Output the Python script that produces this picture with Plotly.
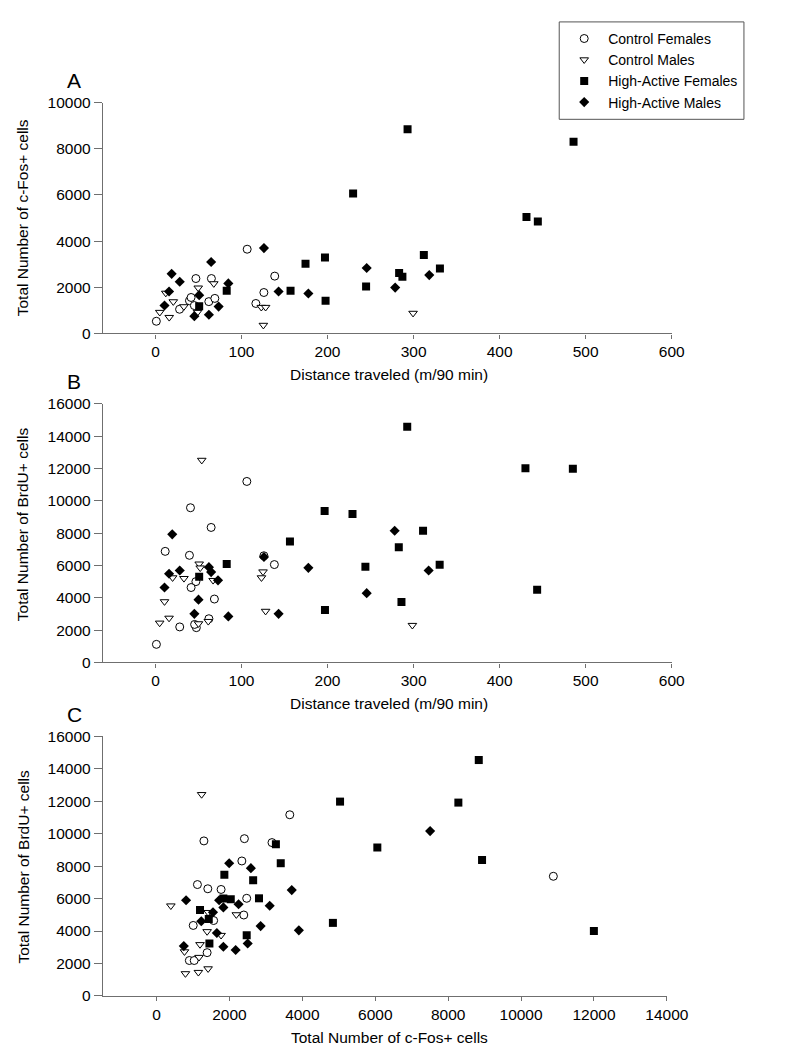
import plotly.graph_objects as go

# ---------------- Panel A: distance vs c-Fos ----------------
a_cf_x = [1, 28, 39.5, 41.4, 47, 45.2, 62, 65, 69, 106.6, 116.7, 126, 138.6]
a_cf_y = [530, 1050, 1420, 1560, 2380, 1210, 1380, 2380, 1520, 3650, 1300, 1775, 2485]
a_cm_x = [5, 12, 16, 20.7, 33, 49.7, 48.9, 67.8, 123, 128, 125.4, 299.4]
a_cm_y = [920, 1750, 700, 1380, 1165, 1975, 920, 2160, 1136, 1136, 360, 880]
a_hf_x = [50.8, 82.8, 157, 174.4, 197, 197.7, 229.7, 244.8, 283.2, 287, 293, 311.9, 330.6, 431.2, 444.4, 485.9]
a_hf_y = [1180, 1850, 1850, 3020, 3290, 1420, 6060, 2030, 2625, 2455, 8840, 3400, 2810, 5040, 4850, 8300]
a_hm_x = [10.5, 15.8, 18.8, 28.2, 45.2, 50.8, 62.1, 64.7, 73.4, 84.7, 126.1, 143.1, 177.7, 245.5, 278.6, 318.2]
a_hm_y = [1210, 1817, 2583, 2243, 750, 1660, 810, 3094, 1166, 2170, 3700, 1817, 1732, 2838, 1987, 2528]

# ---------------- Panel B: distance vs BrdU ----------------
b_cf_x = [1.1, 11.3, 40.7, 64.7, 39.5, 47, 41.4, 28.2, 47.5, 45.5, 62.1, 68.5, 106.2, 138.2, 126]
b_cf_y = [1116, 6872, 9573, 8354, 6628, 5000, 4634, 2195, 2150, 2350, 2702, 3921, 11201, 6055, 6600]
b_cm_x = [53.8, 10.5, 4.9, 15.8, 19.9, 33.1, 50.8, 52, 67, 61.4, 50, 123.2, 125, 128, 298.6]
b_cm_y = [12518, 3762, 2439, 2744, 5244, 5201, 6098, 5854, 5079, 2541, 2398, 5244, 5610, 3171, 2297]
b_hf_x = [50.8, 82.8, 156.3, 196.6, 197, 292.6, 430, 485.1, 229, 311, 282.8, 244, 330.3, 285.9, 443.6]
b_hf_y = [5305, 6098, 7482, 9372, 3250, 14591, 12012, 11994, 9189, 8152, 7134, 5915, 6037, 3738, 4494]
b_hm_x = [19.5, 15.8, 10.5, 28.2, 62.1, 64.7, 72.7, 50, 45.2, 84.7, 126.1, 143.1, 177.7, 278, 317.5, 245.5]
b_hm_y = [7927, 5488, 4634, 5691, 5894, 5591, 5079, 3884, 3006, 2846, 6524, 3006, 5854, 8152, 5691, 4287]

# ---------------- Panel C: c-Fos vs BrdU ----------------
c_cf_x = [3655, 1299, 2410, 3167, 2340, 1121, 1406, 1770, 2473, 2393, 1566, 1006, 1387, 899, 1033, 10886]
c_cf_y = [11170, 9558, 9697, 9455, 8321, 6867, 6606, 6564, 6018, 4988, 4648, 4345, 2667, 2182, 2182, 7376]
c_cm_x = [1236, 392, 1414, 2188, 1387, 1770, 1192, 766, 1165, 792, 1147, 1414]
c_cm_y = [12424, 5557, 5152, 5012, 3970, 3739, 3170, 2727, 2382, 1376, 1455, 1679]
c_hf_x = [3274, 3407, 1860, 2650, 1833, 2036, 2810, 1192, 1432, 2473, 1450, 8840, 5034, 8280, 6057, 8930, 4838, 11998]
c_hf_y = [9352, 8182, 7473, 7133, 6000, 5958, 6018, 5291, 4745, 3739, 3230, 14545, 11982, 11921, 9152, 8382, 4503, 4000]
c_hm_x = [1992, 2588, 3709, 810, 1717, 1833, 2250, 3104, 1227, 1548, 2855, 3904, 1654, 747, 1833, 2170, 2500, 7505]
c_hm_y = [8182, 7879, 6527, 5897, 5897, 5455, 5655, 5558, 4606, 5152, 4303, 4042, 3879, 3073, 3030, 2830, 3230, 10164]

group_names = ["Control Females", "Control Males", "High-Active Females", "High-Active Males"]

# ---------------- layout geometry (pixels) ----------------
W, H = 791, 1050
X_LEFT = 97.7
X_RIGHT_AB = 682.7
X_RIGHT_C = 677.7
PANELS = {  # (top px, bottom px)
    "A": (87.0, 321.7),
    "B": (393.3, 656.0),
    "C": (731.3, 995.0),
}
LEGEND_BOX = (567, 5, 757, 104)  # x0, y0, x1, y1 in px

FONT = "Liberation Sans, Arial, sans-serif"

styles = [
    dict(symbol="circle", size=8, color="white", line=dict(color="black", width=1)),
    dict(symbol="triangle-down", size=7.5, color="white", line=dict(color="black", width=1)),
    dict(symbol="square", size=8, color="black", line=dict(color="black", width=0)),
    dict(symbol="diamond", size=7.8, color="black", line=dict(color="black", width=0)),
]

fig = go.Figure()

panel_data = [
    ("x", "y", [(a_cf_x, a_cf_y), (a_cm_x, a_cm_y), (a_hf_x, a_hf_y), (a_hm_x, a_hm_y)]),
    ("x2", "y2", [(b_cf_x, b_cf_y), (b_cm_x, b_cm_y), (b_hf_x, b_hf_y), (b_hm_x, b_hm_y)]),
    ("x3", "y3", [(c_cf_x, c_cf_y), (c_cm_x, c_cm_y), (c_hf_x, c_hf_y), (c_hm_x, c_hm_y)]),
]

for pi, (xa, ya, groups) in enumerate(panel_data):
    for gi, (gx, gy) in enumerate(groups):
        fig.add_trace(go.Scatter(
            x=gx, y=gy, mode="markers", name=group_names[gi],
            marker=styles[gi], xaxis=xa, yaxis=ya,
            showlegend=(pi == 0), legendgroup=group_names[gi],
        ))

def ydom(top, bot):
    return [1 - bot / H, 1 - top / H]

axis_common = dict(
    showline=True, linecolor="#6f6f6f", linewidth=1.4,
    ticks="outside", tickcolor="#6f6f6f", tickwidth=1.2,
    showgrid=False, zeroline=False, tickformat="d",
    tickfont=dict(family=FONT, size=15.5, color="black"),
)

fig.update_layout(
    width=W, height=H, autosize=False,
    margin=dict(l=0, r=0, t=0, b=0),
    paper_bgcolor="white", plot_bgcolor="white",
    font=dict(family=FONT, color="black"),
    xaxis=dict(domain=[X_LEFT / W, X_RIGHT_AB / W], range=[-61, 600], tick0=0, dtick=100,
               ticklen=4, anchor="y", **axis_common),
    yaxis=dict(domain=ydom(*PANELS["A"]), range=[0, 10000], tick0=0, dtick=2000,
               ticklen=8, anchor="x", **axis_common),
    xaxis2=dict(domain=[X_LEFT / W, X_RIGHT_AB / W], range=[-61, 600], tick0=0, dtick=100,
                ticklen=4, anchor="y2", **axis_common),
    yaxis2=dict(domain=ydom(*PANELS["B"]), range=[0, 16000], tick0=0, dtick=2000,
                ticklen=8, anchor="x2", **axis_common),
    xaxis3=dict(domain=[X_LEFT / W, X_RIGHT_C / W], range=[-1470, 14000], tick0=0, dtick=2000,
                ticklen=4, anchor="y3", **axis_common),
    yaxis3=dict(domain=ydom(*PANELS["C"]), range=[0, 16000], tick0=0, dtick=2000,
                ticklen=8, anchor="x3", **axis_common),
    legend=dict(
        x=(LEGEND_BOX[0] + 1) / W, y=1 - (LEGEND_BOX[1] + 1) / H, xanchor="left", yanchor="top",
        borderwidth=0, bgcolor="rgba(0,0,0,0)",
        font=dict(family=FONT, size=14, color="black"),
        tracegroupgap=0, itemsizing="trace", itemwidth=38,
    ),
    shapes=[dict(type="rect", xref="paper", yref="paper",
                 x0=LEGEND_BOX[0] / W, x1=LEGEND_BOX[2] / W,
                 y0=1 - LEGEND_BOX[3] / H, y1=1 - LEGEND_BOX[1] / H,
                 line=dict(color="#555555", width=1), fillcolor="rgba(0,0,0,0)", layer="below")],
)

ann_font = dict(family=FONT, size=15.5, color="black")
annotations = []
# panel letters
for letter, ypx in [("A", 65), ("B", 371), ("C", 709)]:
    annotations.append(dict(text=letter, x=68 / W, y=1 - ypx / H, xref="paper", yref="paper",
                            showarrow=False, xanchor="center", yanchor="middle",
                            font=dict(family=FONT, size=21, color="black")))
# x-axis titles
for text, ypx in [("Distance traveled (m/90 min)", 363), ("Distance traveled (m/90 min)", 698),
                  ("Total Number of c-Fos+ cells", 1037)]:
    annotations.append(dict(text=text, x=((X_LEFT + X_RIGHT_AB) / 2 + 2) / W, y=1 - ypx / H,
                            xref="paper", yref="paper", showarrow=False,
                            xanchor="center", yanchor="middle", font=ann_font))
# y-axis titles
for text, ycen in [("Total Number of c-Fos+ cells", 204), ("Total Number of BrdU+ cells", 516),
                   ("Total Number of BrdU+ cells", 864)]:
    annotations.append(dict(text=text, x=15 / W, y=1 - ycen / H, xref="paper", yref="paper",
                            showarrow=False, textangle=-90, xanchor="center", yanchor="middle",
                            font=ann_font))
fig.update_layout(annotations=annotations)

fig.write_html("out.html")
